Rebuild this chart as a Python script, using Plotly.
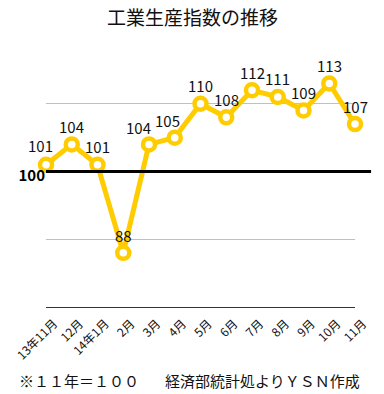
import plotly.graph_objects as go

months = ["13年11月", "12月", "14年1月", "2月", "3月", "4月", "5月", "6月",
          "7月", "8月", "9月", "10月", "11月"]
values = [101, 104, 101, 88, 104, 105, 110, 108, 112, 111, 109, 113, 107]
y_ticks = [80, 90, 100, 110, 120]
y_ticktext = ["", "", "<b>100</b>", "", ""]

# label placement tweaks (pixels)
label_dx = [-6, 0, 0, 0, -11, -7, 0, 0, 0, 0, 0, 0, 0]
label_dy = [19, 18, 18, 17, 17, 17, 18, 18, 18, 18, 18, 18, 18]

FONT = "Noto Sans CJK JP"
YEL = "#FFCC00"

fig = go.Figure()
fig.add_trace(go.Scatter(
    x=months, y=values, mode="lines+markers",
    line=dict(color=YEL, width=5),
    marker=dict(size=12, color="white", line=dict(color=YEL, width=4.5)),
    cliponaxis=False, hoverinfo="skip",
))

for m, v, dx, dy in zip(months, values, label_dx, label_dy):
    fig.add_annotation(x=m, y=v, text=str(v), showarrow=False,
                       xshift=dx, yshift=dy,
                       font=dict(family=FONT, size=15, color="#111"))

fig.add_shape(type="line", xref="paper", yref="y", x0=0, x1=1.052, y0=100, y1=100,
              line=dict(color="black", width=3), layer="above")

fig.add_annotation(xref="paper", yref="paper", x=0.473, y=1, yshift=20,
                   xanchor="center", yanchor="middle", showarrow=False,
                   text="工業生産指数の推移",
                   font=dict(family=FONT, size=19, color="#111"))

fig.add_annotation(xref="paper", yref="paper", x=-0.095, y=0, yshift=-73,
                   xanchor="left", yanchor="middle", showarrow=False,
                   text="※１１年＝１００",
                   font=dict(family=FONT, size=15, color="#111"))
fig.add_annotation(xref="paper", yref="paper", x=1.022, y=0, yshift=-73,
                   xanchor="right", yanchor="middle", showarrow=False,
                   text="経済部統計処よりＹＳＮ作成",
                   font=dict(family=FONT, size=15, color="#111"))

fig.update_layout(
    width=384, height=394,
    margin=dict(l=46, r=29, t=36, b=87, autoexpand=False),
    paper_bgcolor="white", plot_bgcolor="white",
    showlegend=False,
    font=dict(family=FONT, size=11, color="#111"),
)
fig.update_xaxes(
    type="category", range=[0, 12], tickangle=-45, automargin=False,
    showgrid=False, showline=True, linecolor="#333", linewidth=1,
    ticks="outside", ticklen=4, tickcolor="rgba(0,0,0,0)",
    ticklabelshift=8,
    tickfont=dict(family=FONT, size=12, color="#111"),
    zeroline=False,
)
fig.update_yaxes(
    range=[80, 120], tickvals=y_ticks, ticktext=y_ticktext, automargin=False,
    showgrid=True, gridcolor="#c0c0c0", gridwidth=1,
    zeroline=False, showline=False, ticks="",
    ticklabelshift=4,
    tickfont=dict(family=FONT, size=15, color="black"),
)

fig.write_html("out.html", config={"displayModeBar": False},
               post_script="document.body.style.margin='0';document.body.style.overflow='hidden';")
